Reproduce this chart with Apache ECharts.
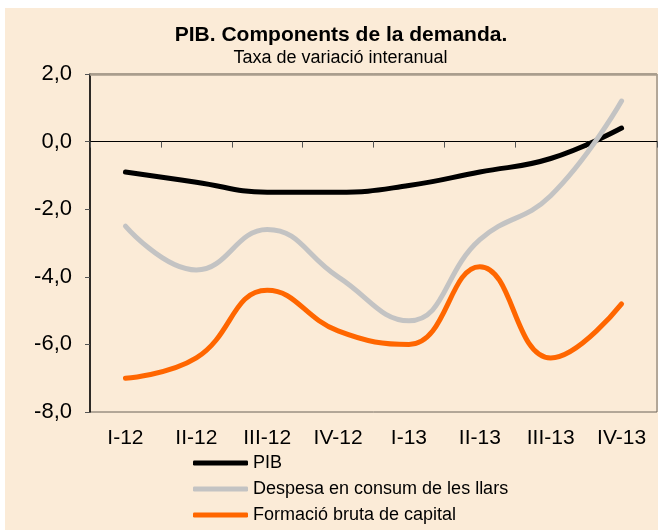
<!DOCTYPE html>
<html>
<head>
<meta charset="utf-8">
<script src="https://cdn.jsdelivr.net/npm/echarts@6/dist/echarts.min.js"></script>
<style>
html,body{margin:0;padding:0;background:#ffffff;width:658px;height:530px;overflow:hidden;}
#chart{position:absolute;left:5px;top:8px;width:653px;height:522px;background:#FBEBD7;}
</style>
</head>
<body>
<div id="chart"></div>
<script>
const categories = ['I-12','II-12','III-12','IV-12','I-13','II-13','III-13','IV-13'];
const pib = [-0.9, -1.2, -1.5, -1.5, -1.3, -0.9, -0.5, 0.4];
const despesa = [-2.5, -3.8, -2.6, -4.0, -5.3, -2.9, -1.6, 1.2];
const formacio = [-7.0, -6.4, -4.4, -5.6, -6.0, -3.7, -6.4, -4.8];
const seriesNames = ['PIB', 'Despesa en consum de les llars', 'Formació bruta de capital'];
const titleText = 'PIB. Components de la demanda.';
const subtitleText = 'Taxa de variació interanual';

const FONT = '"Liberation Sans", Arial, sans-serif';
const chart = echarts.init(document.getElementById('chart'), null, {renderer: 'canvas'});

chart.setOption({
  animation: false,
  backgroundColor: 'transparent',
  title: [
    {text: titleText, left: 336, top: 17, padding: 0, textAlign: 'center',
     textStyle: {fontFamily: FONT, fontSize: 21, fontWeight: 'bold', color: '#000'}},
    {text: subtitleText, left: 335.5, top: 41, padding: 0, textAlign: 'center',
     textStyle: {fontFamily: FONT, fontSize: 18, fontWeight: 'normal', color: '#000'}}
  ],
  legend: {
    orient: 'vertical',
    left: 188, top: 446,
    padding: 0,
    itemGap: 8,
    itemWidth: 55, itemHeight: 5,
    icon: 'roundRect',
    textStyle: {fontFamily: FONT, fontSize: 18, color: '#000', padding: [0, 0, 0, 0]},
    data: seriesNames
  },
  grid: {
    left: 85, right: 1, top: 66, bottom: 118,
    show: true, borderColor: '#6a6258', borderWidth: 1, backgroundColor: 'transparent'
  },
  xAxis: [
    {
      type: 'category', data: categories, boundaryGap: true,
      position: 'bottom',
      axisLine: {onZero: true, lineStyle: {color: '#000', width: 1}},
      axisTick: {show: true, inside: false, length: 6, lineStyle: {color: '#555'}},
      axisLabel: {show: false},
      splitLine: {show: false}
    },
    {
      type: 'category', data: categories, boundaryGap: true,
      position: 'bottom',
      axisLine: {show: false, onZero: false},
      axisTick: {show: false},
      axisLabel: {show: true, margin: 16, fontFamily: FONT, fontSize: 21, color: '#000'},
      splitLine: {show: false}
    }
  ],
  yAxis: {
    type: 'value', min: -8, max: 2, interval: 2,
    axisLine: {show: true, lineStyle: {color: '#000', width: 1.5}},
    axisTick: {show: true, length: 5, lineStyle: {color: '#555'}},
    axisLabel: {margin: 18, fontFamily: FONT, fontSize: 22, color: '#000',
      formatter: v => v.toFixed(1).replace('.', ',')},
    splitLine: {show: false}
  },
  series: [
    {
      name: seriesNames[0], type: 'line', data: pib, smooth: 0.45,
      symbol: 'none', showSymbol: false,
      lineStyle: {color: '#000000', width: 5, cap: 'round'},
      itemStyle: {color: '#000000'},
      markLine: {silent: true, symbol: 'none', label: {show: false},
        lineStyle: {color: '#a99d8d', width: 2.5, type: 'solid'},
        data: [{yAxis: 2}]}
    },
    {
      name: seriesNames[1], type: 'line', data: despesa, smooth: 0.45,
      symbol: 'none', showSymbol: false,
      lineStyle: {color: '#C3C3C3', width: 5, cap: 'round'},
      itemStyle: {color: '#C3C3C3'}
    },
    {
      name: seriesNames[2], type: 'line', data: formacio, smooth: 0.45,
      symbol: 'none', showSymbol: false,
      lineStyle: {color: '#FF6600', width: 5, cap: 'round'},
      itemStyle: {color: '#FF6600'}
    }
  ]
});
</script>
</body>
</html>
